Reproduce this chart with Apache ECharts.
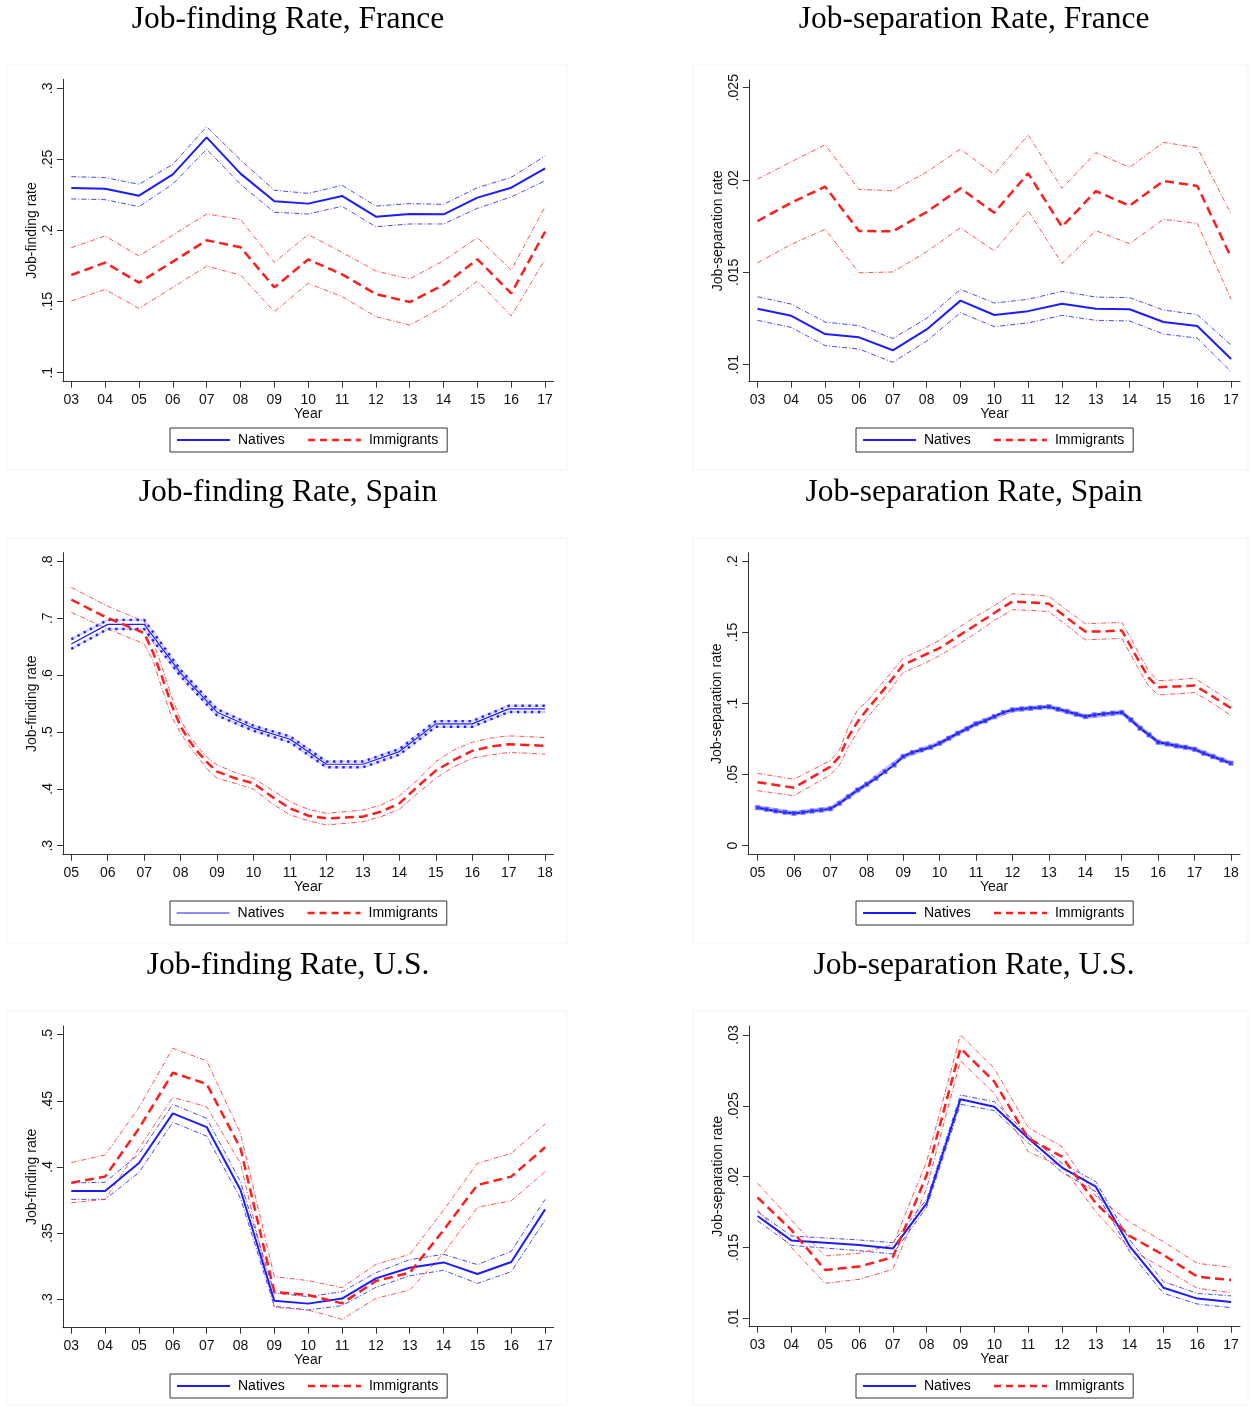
<!DOCTYPE html>
<html>
<head>
<meta charset="utf-8">
<script src="https://cdn.jsdelivr.net/npm/echarts@6/dist/echarts.min.js"></script>
<style>
html,body{margin:0;padding:0;background:#fff;}
#main{width:1250px;height:1406px;}
</style>
</head>
<body>
<div id="main"></div>
<script>
// ---------- DATA ----------
const yearsA = [3,4,5,6,7,8,9,10,11,12,13,14,15,16,17];          // 2003-2017
const yearsB = [5,6,7,8,9,10,11,12,13,14,15,16,17,18];            // 2005-2018

// France, job-finding
const frJF_nat   = [.2299,.2294,.2245,.2395,.2655,.2400,.2205,.2189,.2243,.2097,.2116,.2114,.2231,.2301,.2437];
const frJF_natHi = [.2379,.2372,.2325,.2465,.2730,.2496,.2283,.2261,.2318,.2172,.2189,.2184,.2301,.2374,.2524];
const frJF_natLo = [.2222,.2217,.2168,.2327,.2571,.2325,.2128,.2116,.2170,.2027,.2046,.2046,.2156,.2236,.2350];
const frJF_imm   = [.1687,.1774,.1633,.1781,.1931,.1882,.1600,.1797,.1692,.1553,.1497,.1617,.1797,.1558,.1992];
const frJF_immHi = [.1879,.1961,.1821,.1968,.2116,.2078,.1776,.1971,.1846,.1715,.1659,.1788,.1950,.1722,.2168];
const frJF_immLo = [.1504,.1586,.1452,.1600,.1750,.1687,.1429,.1628,.1535,.1394,.1335,.1464,.1645,.1399,.1797];

// France, job-separation
const frJS_nat   = [.01303,.01265,.01166,.01148,.01078,.01191,.01347,.01269,.01290,.01330,.01303,.01300,.01231,.01210,.01031];
const frJS_natHi = [.01368,.01328,.01231,.01211,.01142,.01251,.01408,.01334,.01354,.01397,.01366,.01363,.01296,.01271,.01106];
const frJS_natLo = [.01240,.01202,.01103,.01085,.01013,.01128,.01282,.01206,.01226,.01267,.01240,.01237,.01166,.01144,.00962];
const frJS_imm   = [.01778,.01877,.01964,.01724,.01722,.01827,.01955,.01823,.02036,.01747,.01940,.01861,.01995,.01968,.01581];
const frJS_immHi = [.02005,.02099,.02191,.01949,.01942,.02043,.02168,.02030,.02244,.01955,.02148,.02069,.02204,.02175,.01816];
const frJS_immLo = [.01552,.01652,.01733,.01498,.01502,.01612,.01742,.01616,.01834,.01549,.01726,.01655,.01787,.01765,.01354];

// Spain, job-finding
const esJF_nat   = [.6545,.6891,.6891,.6034,.5347,.5066,.4872,.4432,.4432,.4655,.5142,.5142,.5406,.5406];
const esJF_natHi = [.663,.697,.697,.609,.540,.511,.492,.448,.448,.470,.519,.519,.546,.546];
const esJF_natLo = [.646,.681,.681,.598,.529,.502,.482,.438,.438,.460,.509,.509,.535,.535];
const esJF_immX  = [5,6,7,7.25,7.5,7.75,8,8.25,8.5,8.75,9,9.5,10,10.5,11,11.5,12,13,13.5,14,14.5,15,15.5,16,16.5,17,17.5,18];
const esJF_imm   = [.7325,.7002,.6738,.6386,.5946,.5477,.5095,.4831,.4626,.4450,.4303,.4185,.4097,.3863,.3657,.3528,.3481,.3511,.3599,.3745,.4039,.4320,.4508,.4667,.4743,.4784,.4772,.4755];
const esJF_immHi = [.7542,.7208,.6944,.6580,.6122,.5623,.5212,.4919,.4714,.4538,.4420,.4285,.4185,.3980,.3775,.3640,.3569,.3628,.3716,.3874,.4156,.4479,.4684,.4819,.4890,.4931,.4919,.4901];
const esJF_immLo = [.7102,.6809,.6550,.6239,.5741,.5271,.4978,.4743,.4538,.4332,.4185,.4097,.3992,.3745,.3540,.3440,.3364,.3422,.3511,.3640,.3921,.4185,.4391,.4538,.4597,.4638,.4626,.4608];

// Spain, job-separation
const esJS_natX  = [5,5.25,5.5,5.75,6,6.25,6.5,6.75,7,7.25,7.5,7.75,8,8.25,8.5,8.75,9,9.25,9.5,9.75,10,10.25,10.5,10.75,11,11.25,11.5,11.75,12,12.25,12.5,12.75,13,13.25,13.5,13.75,14,14.25,14.5,14.75,15,15.25,15.5,15.75,16,16.25,16.5,16.75,17,17.25,17.5,17.75,18];
const esJS_nat   = [.0268,.0256,.0244,.0235,.0228,.0235,.0244,.0251,.0260,.0298,.0345,.0392,.0432,.0474,.0521,.0568,.0627,.0655,.0674,.0692,.0721,.0756,.0791,.0822,.0857,.0878,.0908,.0937,.0955,.0962,.0967,.0972,.0977,.0960,.0944,.0925,.0908,.0920,.0927,.0932,.0937,.0885,.0826,.0779,.0728,.0716,.0702,.0692,.0678,.0650,.0627,.0603,.0580];
const esJS_natHi = [.0280,.0240,.0272,.0444,.0639,.0733,.0869,.0967,.0989,.0920,.0949,.0740,.0690,.0592];
const esJS_natLo = [.0256,.0216,.0248,.0420,.0615,.0709,.0845,.0943,.0965,.0896,.0925,.0716,.0666,.0568];
const esJS_immX  = [5,6,7,7.25,7.5,7.75,8,8.5,9,9.5,10,10.5,11,11.5,11.75,12,12.5,13,13.5,14,14.5,15,15.25,15.5,15.75,16,16.5,17,17.5,18];
const esJS_imm   = [.0446,.0408,.0556,.0627,.0768,.0873,.0955,.1108,.1272,.1331,.1390,.1472,.1554,.1636,.1678,.1718,.1711,.1702,.1601,.1507,.1507,.1514,.1401,.1284,.1178,.1115,.1120,.1127,.1049,.0967];
const esJS_immHi = [.0509,.0467,.0599,.0674,.0838,.0955,.1014,.1167,.1319,.1378,.1444,.1531,.1613,.1688,.1730,.1772,.1765,.1754,.1655,.1561,.1566,.1570,.1460,.1336,.1225,.1160,.1167,.1178,.1096,.1014];
const esJS_immLo = [.0387,.0352,.0498,.0568,.0697,.0803,.0897,.1049,.1218,.1272,.1336,.1413,.1495,.1585,.1622,.1660,.1655,.1646,.1547,.1448,.1453,.1458,.1343,.1225,.1120,.1061,.1068,.1077,.1002,.0915];

// U.S., job-finding
const usJF_nat   = [.3817,.3817,.4029,.4405,.4301,.3825,.2987,.2965,.3003,.3156,.3237,.3277,.3189,.3280,.3678];
const usJF_natHi = [.3878,.3883,.4097,.4473,.4367,.3888,.3045,.3018,.3055,.3199,.3298,.3338,.3260,.3361,.3754];
const usJF_natLo = [.3754,.3754,.3958,.4337,.4233,.3762,.2945,.2917,.2950,.3088,.3176,.3217,.3118,.3207,.3598];
const usJF_imm   = [.3880,.3926,.4291,.4712,.4627,.4140,.3053,.3030,.2967,.3136,.3199,.3522,.3863,.3926,.4148];
const usJF_immHi = [.4032,.4090,.4450,.4897,.4803,.4253,.3169,.3139,.3086,.3262,.3338,.3673,.4027,.4102,.4324];
const usJF_immLo = [.3729,.3754,.4140,.4526,.4455,.4027,.2937,.2917,.2846,.3005,.3068,.3346,.3694,.3744,.3963];

// U.S., job-separation
const usJS_nat   = [.01722,.01550,.01534,.01518,.01492,.01812,.02546,.02494,.02271,.02064,.01929,.01510,.01216,.01139,.01115];
const usJS_natHi = [.01753,.01581,.01567,.01553,.01534,.01840,.02576,.02529,.02294,.02094,.01965,.01553,.01259,.01176,.01158];
const usJS_natLo = [.01689,.01515,.01496,.01478,.01454,.01784,.02511,.02466,.02240,.02031,.01894,.01471,.01176,.01101,.01075];
const usJS_imm   = [.01854,.01624,.01341,.01365,.01431,.02012,.02906,.02671,.02271,.02141,.01812,.01581,.01447,.01294,.01270];
const usJS_immHi = [.01953,.01694,.01440,.01459,.01518,.02106,.03000,.02765,.02348,.02212,.01864,.01680,.01541,.01388,.01360];
const usJS_immLo = [.01765,.01501,.01247,.01275,.01346,.01918,.02819,.02588,.02176,.02070,.01753,.01490,.01353,.01212,.01181];

// tick labels
const ticksFrJF = [.1,.15,.2,.25,.3];
const ticksFrJS = [.01,.015,.02,.025];
const ticksEsJF = [.3,.4,.5,.6,.7,.8];
const ticksEsJS = [0,.05,.1,.15,.2];
const ticksUsJF = [.3,.35,.4,.45,.5];
const ticksUsJS = [.01,.015,.02,.025,.03];

const titles = ['Job-finding Rate, France','Job-separation Rate, France','Job-finding Rate, Spain','Job-separation Rate, Spain','Job-finding Rate, U.S.','Job-separation Rate, U.S.'];
const yNames = ['Job-finding rate','Job-separation rate','Job-finding rate','Job-separation rate','Job-finding rate','Job-separation rate'];

// ---------- LAYOUT ----------
const SANS = 'Liberation Sans, Arial, sans-serif';
const SERIF = 'Liberation Serif, serif';
const BLUE = '#1c1cff', RED = '#ff1c1c';
const panels = [
  {grid:{left:62.9,top:79.3,width:490.6,height:302.4}, x:[2.752,17.248], y:[0.09367,0.30633], xt:yearsA, yt:ticksFrJF, tcx:288, tty:4,  lg:[170,428]},
  {grid:{left:748.9,top:80,width:491.1,height:301.7}, x:[2.746,17.263], y:[0.009079,0.025417], xt:yearsA, yt:ticksFrJS, tcx:974, tty:4, lg:[856,428]},
  {grid:{left:62.9,top:552.7,width:490.6,height:302}, x:[4.7696,18.23], y:[0.28418,0.81512], xt:yearsB, yt:ticksEsJF, tcx:288, tty:477, lg:[170,901]},
  {grid:{left:748.2,top:552.7,width:491.8,height:302}, x:[4.745,18.247], y:[-0.00633,0.20605], xt:yearsB, yt:ticksEsJS, tcx:974, tty:477, lg:[856,901]},
  {grid:{left:62.9,top:1026,width:490.6,height:301.7}, x:[2.752,17.248], y:[0.27828,0.50658], xt:yearsA, yt:ticksUsJF, tcx:288, tty:950, lg:[170,1374]},
  {grid:{left:748.9,top:1026,width:491.1,height:300.7}, x:[2.746,17.263], y:[0.009407,0.030635], xt:yearsA, yt:ticksUsJS, tcx:974, tty:950, lg:[856,1374]}
];

const zip = (xs, ys) => xs.map((x,i)=>[x, ys[i]]);
const fmtY = v => v === 0 ? '0' : String(+v.toFixed(4)).replace(/^0\./,'.');
const fmtX = v => (v < 10 ? '0' : '') + v;

const series = [];
function add(p, name, xs, ys, style, extra) {
  series.push(Object.assign({
    type:'line', name:name, xAxisIndex:p, yAxisIndex:p,
    data: zip(xs, ys), symbol:'none', showSymbol:false, silent:true,
    lineStyle: style, itemStyle:{color:style.color}, z: 2
  }, extra || {}));
}
const ciN = {color:'rgba(40,40,255,0.85)', width:1, type:[5,2,1,2]};
const ciI = {color:'rgba(255,40,40,0.8)', width:1, type:[5,2,1,2]};
const mainN = {color:BLUE, width:2};
const mainI = {color:RED, width:2.5, type:[9,5]};

// panel 0 France JF
add(0,'Nat hi',yearsA,frJF_natHi,ciN); add(0,'Nat lo',yearsA,frJF_natLo,ciN);
add(0,'Imm hi',yearsA,frJF_immHi,ciI); add(0,'Imm lo',yearsA,frJF_immLo,ciI);
add(0,'Natives',yearsA,frJF_nat,mainN,{z:3}); add(0,'Immigrants',yearsA,frJF_imm,mainI,{z:3});
// panel 1 France JS
add(1,'Nat hi',yearsA,frJS_natHi,ciN); add(1,'Nat lo',yearsA,frJS_natLo,ciN);
add(1,'Imm hi',yearsA,frJS_immHi,ciI); add(1,'Imm lo',yearsA,frJS_immLo,ciI);
add(1,'Natives',yearsA,frJS_nat,mainN,{z:3}); add(1,'Immigrants',yearsA,frJS_imm,mainI,{z:3});
// panel 2 Spain JF
const ciNes = {color:'#2020ff', width:2.4, type:[2.4,4.6]};
add(2,'Imm hi',esJF_immX,esJF_immHi,ciI); add(2,'Imm lo',esJF_immX,esJF_immLo,ciI);
add(2,'Nat hi halo',yearsB,esJF_natHi,{color:'rgba(140,140,255,0.35)',width:2.5}); add(2,'Nat lo halo',yearsB,esJF_natLo,{color:'rgba(140,140,255,0.35)',width:2.5});
add(2,'Nat hi',yearsB,esJF_natHi,ciNes); add(2,'Nat lo',yearsB,esJF_natLo,ciNes);
add(2,'Natives',yearsB,esJF_nat,{color:BLUE,width:1.2},{z:3}); add(2,'Immigrants',esJF_immX,esJF_imm,mainI,{z:3});
// panel 3 Spain JS
add(3,'Imm hi',esJS_immX,esJS_immHi,ciI); add(3,'Imm lo',esJS_immX,esJS_immLo,ciI);
add(3,'Nat hi',yearsB,esJS_natHi,{color:'rgba(110,110,255,0.6)',width:1.2}); add(3,'Nat lo',yearsB,esJS_natLo,{color:'rgba(110,110,255,0.6)',width:1.2});
add(3,'Natives',esJS_natX,esJS_nat,{color:BLUE,width:2.2},{z:3}); add(3,'Immigrants',esJS_immX,esJS_imm,mainI,{z:3});
series.push({type:'scatter', name:'Nat pts', xAxisIndex:3, yAxisIndex:3, data:zip(esJS_natX, esJS_nat), symbol:'rect', symbolSize:4.5, itemStyle:{color:'#2a2aff', borderColor:'rgba(140,140,255,0.7)', borderWidth:1}, silent:true, z:4});
// panel 4 US JF
add(4,'Nat hi',yearsA,usJF_natHi,ciN); add(4,'Nat lo',yearsA,usJF_natLo,ciN);
add(4,'Imm hi',yearsA,usJF_immHi,ciI); add(4,'Imm lo',yearsA,usJF_immLo,ciI);
add(4,'Natives',yearsA,usJF_nat,mainN,{z:3}); add(4,'Immigrants',yearsA,usJF_imm,mainI,{z:3});
// panel 5 US JS
add(5,'Nat hi',yearsA,usJS_natHi,ciN); add(5,'Nat lo',yearsA,usJS_natLo,ciN);
add(5,'Imm hi',yearsA,usJS_immHi,ciI); add(5,'Imm lo',yearsA,usJS_immLo,ciI);
add(5,'Natives',yearsA,usJS_nat,mainN,{z:3}); add(5,'Immigrants',yearsA,usJS_imm,mainI,{z:3});

const axisCol = '#333';
const option = {
  animation:false,
  backgroundColor:'#fff',
  title: panels.map((p,i)=>({text:titles[i], left:p.tcx, top:p.tty, textAlign:'center', padding:0,
    textStyle:{fontFamily:SERIF, fontSize:31.5, fontWeight:'normal', color:'#000'}})),
  grid: panels.map(p=>Object.assign({containLabel:false}, p.grid)),
  xAxis: panels.map((p,i)=>({type:'value', gridIndex:i, min:p.x[0], max:p.x[1],
    axisLine:{show:true, onZero:false, lineStyle:{color:axisCol,width:1}},
    axisTick:{show:true, customValues:p.xt, length:6, lineStyle:{color:axisCol}},
    axisLabel:{customValues:p.xt, formatter:fmtX, fontSize:14, margin:11, color:'#111', fontFamily:SANS},
    splitLine:{show:false},
    name:'Year', nameLocation:'middle', nameGap:25, nameTextStyle:{fontSize:14, color:'#111', fontFamily:SANS}})),
  yAxis: panels.map((p,i)=>({type:'value', gridIndex:i, min:p.y[0], max:p.y[1],
    axisLine:{show:true, onZero:false, lineStyle:{color:axisCol,width:1}},
    axisTick:{show:true, customValues:p.yt, length:6, lineStyle:{color:axisCol}},
    axisLabel:{customValues:p.yt, formatter:fmtY, rotate:90, fontSize:14, margin:8, color:'#111', fontFamily:SANS},
    splitLine:{show:false},
    name:yNames[i], nameLocation:'middle', nameGap:24, nameTextStyle:{fontSize:14, color:'#111', fontFamily:SANS}})),
  legend: panels.map((p,i)=>({left:p.lg[0], top:p.lg[1], orient:'horizontal',
    padding:[5,9,5,6], borderColor:'#333', borderWidth:1, itemWidth:53, itemHeight:14, itemGap:22,
    selectedMode:false,
    itemStyle:{opacity:0},
    textStyle:{fontSize:14, color:'#000', fontFamily:SANS, padding:[0,0,0,3]},
    data:[{name:'Natives', itemStyle:{opacity:0}, lineStyle:{color:BLUE, width: i===2 ? 1.2 : 2, type:'solid'}},
          {name:'Immigrants', itemStyle:{opacity:0}, lineStyle:{color:RED, width:2.5, type:[7,5]}}]})),
  graphic: [
    {type:'rect', shape:{x:7,y:65,width:560,height:405}, style:{fill:'none',stroke:'#f3f3f3'}, silent:true},
    {type:'rect', shape:{x:693,y:65,width:555,height:405}, style:{fill:'none',stroke:'#f3f3f3'}, silent:true},
    {type:'rect', shape:{x:7,y:538,width:560,height:405}, style:{fill:'none',stroke:'#f3f3f3'}, silent:true},
    {type:'rect', shape:{x:693,y:538,width:555,height:405}, style:{fill:'none',stroke:'#f3f3f3'}, silent:true},
    {type:'rect', shape:{x:7,y:1011,width:560,height:394}, style:{fill:'none',stroke:'#f3f3f3'}, silent:true},
    {type:'rect', shape:{x:693,y:1011,width:555,height:394}, style:{fill:'none',stroke:'#f3f3f3'}, silent:true}
  ],
  series: series
};
const chart = echarts.init(document.getElementById('main'), null, {renderer:'canvas'});
chart.setOption(option);
</script>
</body>
</html>
